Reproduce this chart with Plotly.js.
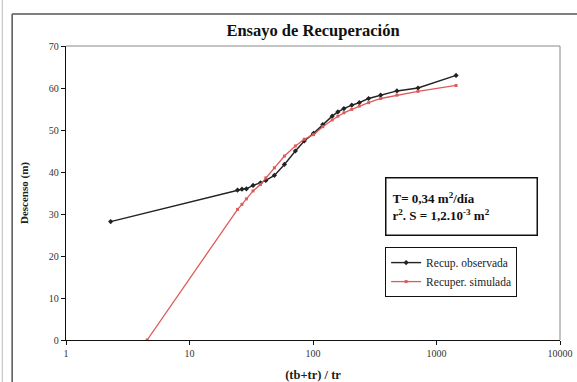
<!DOCTYPE html>
<html>
<head>
<meta charset="utf-8">
<script src="https://cdn.plot.ly/plotly-3.0.1.min.js"></script>
<style>
  html, body { margin: 0; padding: 0; background: #fff; }
  #chart { width: 577px; height: 382px; }
</style>
</head>
<body>
<div id="chart"></div>
<script>
// Recovery test: residual drawdown against (tb+tr)/tr
const obsX = [2.3, 24.5, 26.6, 28.9, 32.7, 37.5, 41.5, 48.7, 58.7, 72, 85, 101, 120, 143, 159, 178, 206, 237, 282, 353, 478, 708, 1440];
const obsY = [28.2, 35.7, 35.9, 36.0, 36.8, 37.4, 38.0, 39.2, 41.8, 45.0, 47.4, 49.2, 51.3, 53.3, 54.3, 55.1, 55.9, 56.5, 57.5, 58.3, 59.3, 60.0, 63.0];

const simX = [4.54, 24.5, 26.6, 28.9, 32.7, 37.5, 41.5, 48.7, 58.7, 72, 85, 101, 120, 143, 159, 178, 206, 237, 282, 353, 478, 708, 1440];
const simY = [0, 31.1, 32.3, 33.6, 35.5, 37.0, 38.6, 41.0, 43.8, 46.2, 47.8, 48.9, 50.8, 52.4, 53.3, 54.1, 54.9, 55.7, 56.5, 57.5, 58.3, 59.2, 60.6];

const xTickVals = [1, 10, 100, 1000, 10000];
const xTickText = ['1', '10', '100', '1000', '10000'];
const seriesNames = ['Recup. observada', 'Recuper. simulada'];

const serif = 'Liberation Serif, Times New Roman, serif';

const traces = [
  {
    x: obsX, y: obsY, name: seriesNames[0],
    type: 'scatter', mode: 'lines+markers',
    line: { color: '#222222', width: 1.4 },
    marker: { symbol: 'diamond', size: 4, color: '#222222' }
  },
  {
    x: simX, y: simY, name: seriesNames[1],
    type: 'scatter', mode: 'lines+markers',
    line: { color: '#e05a5a', width: 1.3 },
    marker: { symbol: 'square', size: 3, color: '#e05a5a' }
  }
];

const layout = {
  width: 577, height: 382,
  margin: { l: 66, r: 17, t: 46, b: 42 },
  paper_bgcolor: '#ffffff',
  plot_bgcolor: '#ffffff',
  font: { family: serif, size: 10, color: '#222' },
  title: {
    text: '<b>Ensayo de Recuperación</b>',
    font: { family: serif, size: 16.5, color: '#111' },
    x: 0.5, xref: 'paper', xanchor: 'center',
    y: 0.922, yref: 'container', yanchor: 'middle'
  },
  xaxis: {
    type: 'log', range: [0, 4],
    tickvals: xTickVals, ticktext: xTickText,
    showgrid: false, zeroline: false,
    showline: true, linecolor: '#111', linewidth: 1.2,
    ticks: 'outside', ticklen: 4, tickcolor: '#111',
    tickfont: { family: serif, size: 10, color: '#333' },
    title: { text: '<b>(tb+tr) / tr</b>', font: { family: serif, size: 12.5, color: '#222' }, standoff: 12 }
  },
  yaxis: {
    range: [0, 70], dtick: 10,
    showgrid: false, zeroline: false,
    showline: true, linecolor: '#111', linewidth: 1.2,
    ticks: 'outside', ticklen: 4, tickcolor: '#111',
    tickfont: { family: serif, size: 10, color: '#333' },
    title: { text: '<b>Descenso (m)</b>', font: { family: serif, size: 11, color: '#222' }, standoff: 18 }
  },
  showlegend: true,
  legend: {
    x: 0.646, y: 0.316, xanchor: 'left', yanchor: 'top',
    bgcolor: '#ffffff', bordercolor: '#111', borderwidth: 1,
    font: { family: serif, size: 11.5, color: '#222' },
    tracegroupgap: 2, itemwidth: 30, entrywidth: 140
  },
  annotations: [
    {
      xref: 'paper', yref: 'paper',
      x: 0.646, y: 0.553, xanchor: 'left', yanchor: 'top',
      text: '<b>T= 0,34 m<sup>2</sup>/día</b><br><b>r<sup>2</sup>. S = 1,2.10<sup>-3</sup> m<sup>2</sup></b>',
      align: 'left', showarrow: false,
      font: { family: serif, size: 13, color: '#111' },
      bordercolor: '#111', borderwidth: 1.5, borderpad: 6,
      bgcolor: '#ffffff', width: 138, height: 44
    }
  ],
  shapes: [
    // thin frame on top and right of the plot area
    { type: 'line', xref: 'paper', yref: 'paper', x0: 0, x1: 1, y0: 1, y1: 1, line: { color: '#888', width: 1 } },
    { type: 'line', xref: 'paper', yref: 'paper', x0: 1, x1: 1, y0: 0, y1: 1, line: { color: '#888', width: 1 } },
    // outer chart border
    { type: 'line', xref: 'paper', yref: 'paper', x0: -0.109, x1: 1.06, y0: 1.109, y1: 1.109, line: { color: '#555', width: 1.5 } },
    { type: 'line', xref: 'paper', yref: 'paper', x0: -0.109, x1: -0.109, y0: -0.2, y1: 1.109, line: { color: '#555', width: 1.5 } },
    { type: 'line', xref: 'paper', yref: 'paper', x0: -0.129, x1: -0.129, y0: -0.2, y1: 1.2, line: { color: '#bbb', width: 1 } }
  ]
};

Plotly.newPlot('chart', traces, layout, { displayModeBar: false, staticPlot: true });
</script>
</body>
</html>
